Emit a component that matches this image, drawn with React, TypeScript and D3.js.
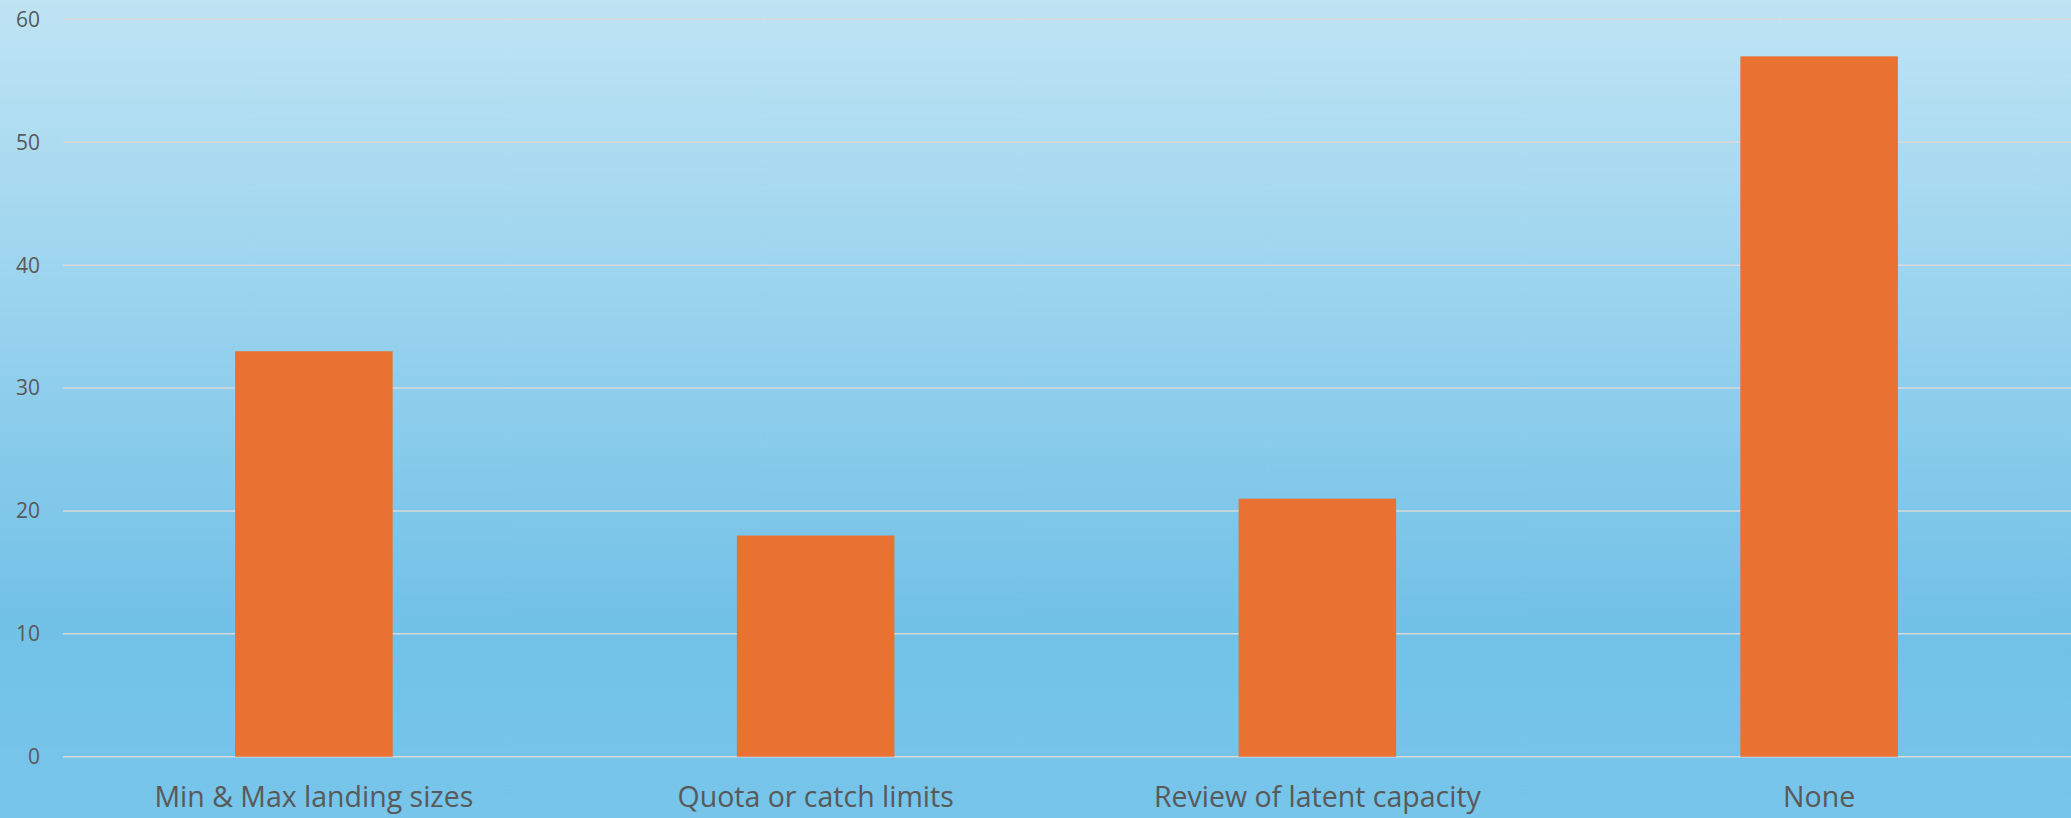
import React, { useEffect } from "react";
import * as d3 from "d3";

const categories = ["Min & Max landing sizes", "Quota or catch limits", "Review of latent capacity", "None"];
const values = [33, 18, 21, 57];
const yTicks = [0, 10, 20, 30, 40, 50, 60];

const W = 2071;
const H = 818;
const margin = { left: 63, right: 1, top: 19.5, bottom: 61.3 };

export default function App() {
  useEffect(() => {
    document.body.style.margin = "0";
  }, []);
  const x = d3
    .scaleBand<string>()
    .domain(categories)
    .range([margin.left, W - margin.right])
    .paddingInner(0.686)
    .paddingOuter(0.343);
  const y = d3.scaleLinear().domain([0, 60]).range([H - margin.bottom, margin.top]);
  const font = "'Open Sans', 'Liberation Sans', sans-serif";
  return (
    <svg width={W} height={H} style={{ position: "fixed", left: 0, top: 0, display: "block" }}>
      <defs>
        <linearGradient id="bg" x1="0" y1="0" x2="0" y2="1">
          <stop offset="0%" stopColor="#BFE4F4" />
          <stop offset="76%" stopColor="#72C1E7" />
          <stop offset="100%" stopColor="#77C5EA" />
        </linearGradient>
      </defs>
      <rect x={0} y={0} width={W} height={H} fill="url(#bg)" />
      {yTicks.map((t) => (
        <g key={t}>
          <line x1={margin.left} x2={W} y1={y(t)} y2={y(t)} stroke="#D9D9D9" strokeWidth={1.5} />
          <text x={40} y={y(t)} dy="0.35em" textAnchor="end" fill="#595959" fontSize={21} fontFamily={font}>
            {t}
          </text>
        </g>
      ))}
      {categories.map((c, i) => (
        <rect key={c} x={x(c)} y={y(values[i])} width={x.bandwidth()} height={y(0) - y(values[i])} fill="#E97132" />
      ))}
      {categories.map((c) => (
        <text key={c} x={(x(c) as number) + x.bandwidth() / 2} y={806.5} textAnchor="middle" fill="#595959" fontSize={28.5} fontFamily={font}>
          {c}
        </text>
      ))}
    </svg>
  );
}
